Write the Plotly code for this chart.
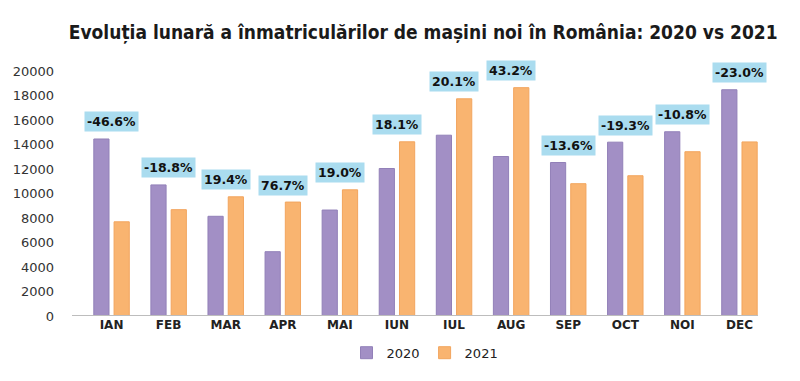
import plotly.graph_objects as go

months = ["IAN", "FEB", "MAR", "APR", "MAI", "IUN", "IUL", "AUG", "SEP", "OCT", "NOI", "DEC"]
values_2020 = [14450, 10700, 8140, 5250, 8650, 12040, 14760, 13020, 12530, 14190, 15040, 18470]
values_2021 = [7690, 8680, 9730, 9300, 10300, 14220, 17730, 18640, 10800, 11450, 13410, 14210]
change_labels = ["-46.6%", "-18.8%", "19.4%", "76.7%", "19.0%", "18.1%",
                 "20.1%", "43.2%", "-13.6%", "-19.3%", "-10.8%", "-23.0%"]
y_ticks = list(range(0, 20001, 2000))

fig = go.Figure()
fig.add_trace(go.Bar(x=months, y=values_2020, name="2020",
                     marker=dict(color="#A28FC5", line=dict(color="#9280B8", width=1))))
fig.add_trace(go.Bar(x=months, y=values_2021, name="2021",
                     marker=dict(color="#F9B470", line=dict(color="#F2A55E", width=1))))

for m, a, b, lab in zip(months, values_2020, values_2021, change_labels):
    fig.add_annotation(x=m, y=max(a, b), text="<b>" + lab + "</b>", showarrow=False,
                       yanchor="middle", yshift=17,
                       font=dict(family="DejaVu Sans", size=12.5, color="#111111"),
                       bgcolor="#AADCEF", borderpad=2)

# plot area: x from 75 px to 760 px; y axis labels sit at the left edge of the margin box
L, R = 46, 40
W = 800 - L - R
x0_frac = (75 - L) / W

fig.add_shape(type="line", xref="paper", yref="y", x0=(64 - L) / W, x1=(750 - L) / W, y0=0, y1=0,
              line=dict(color="#BDBDBD", width=2))

fig.update_layout(
    width=800, height=381,
    margin=dict(l=L, r=R, t=63, b=73),
    paper_bgcolor="white", plot_bgcolor="white",
    title=dict(text="<b>Evoluția lunară a înmatriculărilor de mașini noi în România: 2020 vs 2021</b>",
               x=0.519, xanchor="center", y=0.935, yanchor="middle",
               font=dict(family="DejaVu Sans Condensed, sans-serif", size=19, color="#1a1a1a")),
    barmode="group", bargap=0.29, bargroupgap=0.25,
    showlegend=True,
    legend=dict(orientation="h", x=(417 - L) / W, xanchor="center", y=-0.15, yanchor="middle",
                font=dict(family="DejaVu Sans", size=13, color="#222222"),
                itemwidth=30, traceorder="normal"),
    xaxis=dict(domain=[x0_frac, 1], showgrid=False, showline=False, zeroline=False, ticks="",
               automargin=False,
               tickfont=dict(family="DejaVu Sans", size=12, color="#222222"),
               tickprefix="<b>", ticksuffix="</b>"),
    yaxis=dict(range=[0, 20000], tickvals=y_ticks, tickformat="d", showgrid=False, showline=False,
               zeroline=False, automargin=False, anchor="free", position=0,
               tickfont=dict(family="DejaVu Sans", size=13, color="#333333")),
)

fig.write_html("out.html")
